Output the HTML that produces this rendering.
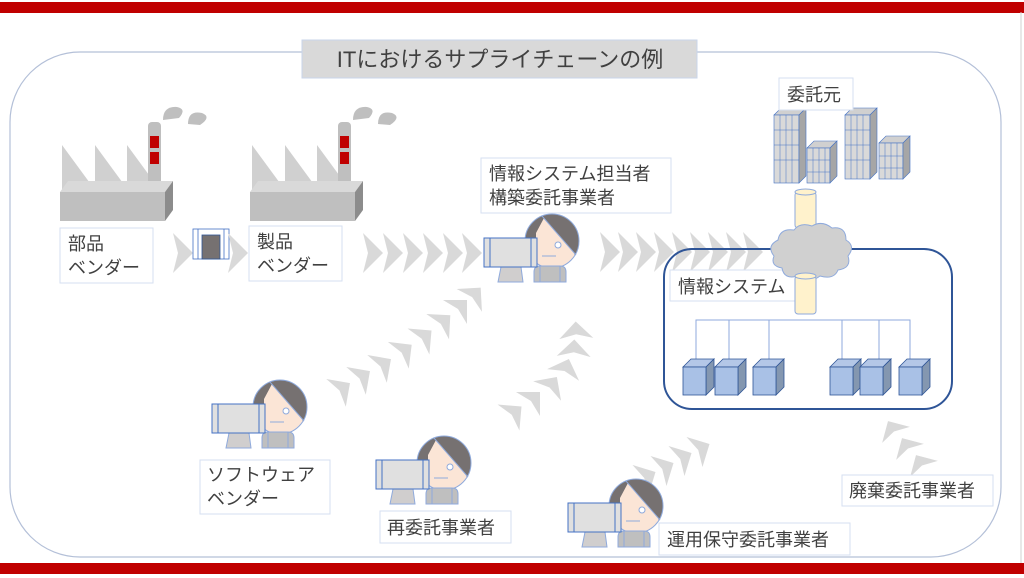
<!DOCTYPE html>
<html><head><meta charset="utf-8"><style>
html,body{margin:0;padding:0;background:#fff;}
svg{display:block;}
text{font-family:"Liberation Sans","Noto Sans CJK JP",sans-serif;fill:#404040;}
</style></head><body>
<svg width="1024" height="578" viewBox="0 0 1024 578" xmlns="http://www.w3.org/2000/svg">
<defs>
<polygon id="chev" points="-10,-20 10,0 -10,20 -5,0" fill="#d9d9d9"/>
<clipPath id="hc"><circle cx="0" cy="0" r="27"/></clipPath>
<g id="person">
  <g transform="translate(68,3)">
    <circle r="27" fill="#767171"/>
    <polygon clip-path="url(#hc)" points="-8,-23 22,12 28,30 -30,30 -30,20 -16,16 -16,-8" fill="#fbe5d6"/>
    <line x1="-10" y1="-25" x2="24" y2="14" stroke="#8faadc" stroke-width="1"/>
    <circle r="27" fill="none" stroke="#8faadc" stroke-width="1"/>
    <circle cx="6" cy="4" r="3" fill="#fff" stroke="#8faadc"/>
    <line x1="-10" y1="15" x2="4" y2="15" stroke="#8faadc"/>
  </g>
  <path d="M50,44 L50,34 Q50,28 56,28 L76,28 Q82,28 82,34 L82,44 Z" fill="#bfbfbf" stroke="#8faadc"/>
  <line x1="56" y1="28" x2="56" y2="44" stroke="#8faadc"/>
  <line x1="76" y1="28" x2="76" y2="44" stroke="#8faadc"/>
  <polygon points="17,29 37,29 39,44 14,44" fill="#d0cece" stroke="#8faadc"/>
  <rect x="0" y="0" width="53" height="29" fill="#e0e0e0" stroke="#4472c4" stroke-width="1"/>
  <line x1="6" y1="0" x2="6" y2="29" stroke="#4472c4"/>
  <line x1="47" y1="0" x2="47" y2="29" stroke="#4472c4"/>
</g>
<g id="factory">
  <polygon points="62,145 95,190 62,190" fill="#d0d0d0"/>
  <polygon points="95,145 128,190 95,190" fill="#d0d0d0"/>
  <polygon points="127,145 160,190 127,190" fill="#d0d0d0"/>
  <rect x="148" y="122" width="13" height="70" rx="4" fill="#bfbfbf"/>
  <rect x="150" y="136" width="9" height="12" fill="#c00000"/>
  <rect x="150" y="152" width="9" height="12" fill="#c00000"/>
  <polygon points="60,192 165,192 173,181 68,181" fill="#d9d9d9"/>
  <rect x="60" y="192" width="105" height="29" fill="#bfbfbf"/>
  <polygon points="165,192 173,181 173,210 165,221" fill="#8c8c8c"/>
  <path d="M163,120 q0,-14 14,-13 q10,2 2,11 z" fill="#bfbfbf"/>
  <path d="M188,124 q0,-14 14,-11 q10,4 -2,12 z" fill="#bfbfbf"/>
</g>
<g id="srv">
  <polygon points="0,8 8,0 31,0 23,8" fill="#b4c7e7" stroke="#2f5597" stroke-width="0.8"/>
  <polygon points="23,8 31,0 31,28 23,36" fill="#8497b0" stroke="#2f5597" stroke-width="0.8"/>
  <rect x="0" y="8" width="23" height="28" fill="#a9c1e6" stroke="#2f5597" stroke-width="0.8"/>
</g>
</defs>

<rect x="0" y="2" width="1024" height="11" fill="#c00000"/>
<rect x="0" y="563" width="1024" height="11" fill="#c00000"/>
<line x1="1021" y1="12" x2="1021" y2="563" stroke="#d0d0d0"/>

<rect x="10" y="52" width="991" height="505" rx="70" fill="none" stroke="#b4c0d8" stroke-width="1.2"/>
<rect x="302" y="40" width="395" height="38" fill="#d9d9d9" stroke="#c9d5ea"/>
<text x="500" y="67" font-size="22" text-anchor="middle" fill="#262626">ITにおけるサプライチェーンの例</text>

<use href="#factory"/>
<use href="#factory" transform="translate(190,0)"/>

<use href="#chev" transform="translate(183,253)"/>
<rect x="193" y="229" width="36" height="30" fill="#fff" stroke="#4472c4" stroke-width="0.8"/>
<line x1="198" y1="229" x2="198" y2="259" stroke="#4472c4" stroke-width="0.8"/>
<line x1="224" y1="229" x2="224" y2="259" stroke="#4472c4" stroke-width="0.8"/>
<rect x="202" y="235" width="18" height="24" fill="#767171" stroke="#2f5597" stroke-width="0.8"/>
<use href="#chev" transform="translate(238,253)"/>
<use href="#chev" transform="translate(373,253)"/>
<use href="#chev" transform="translate(393,253)"/>
<use href="#chev" transform="translate(413,253)"/>
<use href="#chev" transform="translate(433,253)"/>
<use href="#chev" transform="translate(453,253)"/>
<use href="#chev" transform="translate(472,253)"/>
<use href="#chev" transform="translate(610,252)"/>
<use href="#chev" transform="translate(628,252)"/>
<use href="#chev" transform="translate(646,252)"/>
<use href="#chev" transform="translate(664,252)"/>
<use href="#chev" transform="translate(682,252)"/>
<use href="#chev" transform="translate(700,252)"/>
<use href="#chev" transform="translate(718,252)"/>
<use href="#chev" transform="translate(736,252)"/>
<use href="#chev" transform="translate(753,252)"/>

<use href="#chev" transform="translate(343,388) rotate(-35) scale(0.85)"/>
<use href="#chev" transform="translate(363,376) rotate(-35) scale(0.85)"/>
<use href="#chev" transform="translate(384,364) rotate(-35) scale(0.85)"/>
<use href="#chev" transform="translate(405,350) rotate(-38) scale(0.85)"/>
<use href="#chev" transform="translate(425,336) rotate(-40) scale(0.85)"/>
<use href="#chev" transform="translate(444,321) rotate(-42) scale(0.85)"/>
<use href="#chev" transform="translate(461,306) rotate(-45) scale(0.85)"/>
<use href="#chev" transform="translate(475,294) rotate(-48) scale(0.85)"/>

<use href="#chev" transform="translate(515,412) rotate(-40) scale(0.85)"/>
<use href="#chev" transform="translate(534,398) rotate(-45) scale(0.85)"/>
<use href="#chev" transform="translate(552,384) rotate(-55) scale(0.85)"/>
<use href="#chev" transform="translate(566,367) rotate(-70) scale(0.85)"/>
<use href="#chev" transform="translate(574,348) rotate(-88) scale(0.85)"/>
<use href="#chev" transform="translate(576,330) rotate(-92) scale(0.85)"/>

<use href="#chev" transform="translate(648,476) rotate(-28) scale(0.85)"/>
<use href="#chev" transform="translate(666,467) rotate(-28) scale(0.85)"/>
<use href="#chev" transform="translate(684,457) rotate(-28) scale(0.85)"/>
<use href="#chev" transform="translate(702,448) rotate(-28) scale(0.85)"/>

<use href="#chev" transform="translate(920,462) rotate(-120) scale(0.8)"/>
<use href="#chev" transform="translate(906,445) rotate(-120) scale(0.8)"/>
<use href="#chev" transform="translate(892,428) rotate(-120) scale(0.8)"/>

<rect x="664" y="249" width="288" height="160" rx="28" fill="none" stroke="#2f5597" stroke-width="2"/>
<rect x="670" y="270" width="130" height="31" fill="#fff" stroke="#d6dff0"/>
<text x="678" y="293" font-size="18">情報システム</text>
<g stroke="#8faadc" stroke-width="1" fill="none">
<polyline points="696,362 696,320 910,320 910,362"/>
<line x1="729" y1="320" x2="729" y2="362"/>
<line x1="769" y1="320" x2="769" y2="362"/>
<line x1="842" y1="320" x2="842" y2="362"/>
<line x1="879" y1="320" x2="879" y2="362"/>
</g>
<use href="#srv" transform="translate(683,359)"/>
<use href="#srv" transform="translate(715,359)"/>
<use href="#srv" transform="translate(753,359)"/>
<use href="#srv" transform="translate(830,359)"/>
<use href="#srv" transform="translate(860,359)"/>
<use href="#srv" transform="translate(899,359)"/>

<g stroke="#4472c4" stroke-width="0.6">
<polygon points="774,115 799,115 806,108 781,108" fill="#d0d0d0"/>
<rect x="774" y="115" width="25" height="68" fill="#d9d9d9"/>
<polygon points="799,115 806,108 806,176 799,183" fill="#a6a6a6"/>
<polygon points="807,148 830,148 837,141 814,141" fill="#d0d0d0"/>
<rect x="807" y="148" width="23" height="35" fill="#d9d9d9"/>
<polygon points="830,148 837,141 837,176 830,183" fill="#a6a6a6"/>
<polygon points="845,115 870,115 877,108 852,108" fill="#d0d0d0"/>
<rect x="845" y="115" width="25" height="64" fill="#d9d9d9"/>
<polygon points="870,115 877,108 877,172 870,179" fill="#a6a6a6"/>
<polygon points="879,143 903,143 910,136 886,136" fill="#d0d0d0"/>
<rect x="879" y="143" width="24" height="36" fill="#d9d9d9"/>
<polygon points="903,143 910,136 910,172 903,179" fill="#a6a6a6"/>
</g>
<g stroke="#4472c4" stroke-width="0.5">
<line x1="780" y1="115" x2="780" y2="183"/><line x1="786" y1="115" x2="786" y2="183"/><line x1="792" y1="115" x2="792" y2="183"/>
<line x1="774" y1="130" x2="799" y2="130"/><line x1="774" y1="145" x2="799" y2="145"/><line x1="774" y1="160" x2="799" y2="160"/>
<line x1="813" y1="148" x2="813" y2="183"/><line x1="819" y1="148" x2="819" y2="183"/><line x1="825" y1="148" x2="825" y2="183"/>
<line x1="807" y1="160" x2="830" y2="160"/><line x1="807" y1="172" x2="830" y2="172"/>
<line x1="851" y1="115" x2="851" y2="179"/><line x1="857" y1="115" x2="857" y2="179"/><line x1="863" y1="115" x2="863" y2="179"/>
<line x1="845" y1="130" x2="870" y2="130"/><line x1="845" y1="145" x2="870" y2="145"/><line x1="845" y1="160" x2="870" y2="160"/>
<line x1="885" y1="143" x2="885" y2="179"/><line x1="891" y1="143" x2="891" y2="179"/><line x1="897" y1="143" x2="897" y2="179"/>
<line x1="879" y1="156" x2="903" y2="156"/><line x1="879" y1="168" x2="903" y2="168"/>
</g>
<rect x="779" y="78" width="74" height="32" fill="#fff" stroke="#d6dff0"/>
<text x="787" y="101" font-size="18">委託元</text>

<rect x="795" y="192" width="21" height="36" rx="3" fill="#fff2cc" stroke="#8faadc"/>
<ellipse cx="805.5" cy="192" rx="10.5" ry="3" fill="#fff2cc" stroke="#8faadc"/>
<path d="M778,240 q2,-12 16,-10 q6,-8 18,-4 q10,-6 20,2 q14,-2 14,12 q10,6 2,16 q4,12 -10,14 q-4,10 -18,6 q-10,8 -22,0 q-14,4 -16,-8 q-12,-2 -8,-12 q-8,-10 4,-16 z" fill="#d0d0d0" stroke="#8faadc" stroke-width="1"/>
<rect x="795" y="276" width="21" height="38" rx="3" fill="#fff2cc" stroke="#8faadc"/>
<ellipse cx="805.5" cy="276" rx="10.5" ry="3" fill="#fff2cc" stroke="#8faadc"/>

<use href="#person" transform="translate(484,238)"/>
<use href="#person" transform="translate(212,404)"/>
<use href="#person" transform="translate(376,460)"/>
<use href="#person" transform="translate(568,503)"/>

<g fill="#fff" stroke="#d6dff0">
<rect x="60" y="228" width="93" height="55"/>
<rect x="249" y="226" width="93" height="55"/>
<rect x="481" y="158" width="190" height="55"/>
<rect x="200" y="460" width="130" height="54"/>
<rect x="380" y="511" width="131" height="32"/>
<rect x="659" y="523" width="191" height="32"/>
<rect x="842" y="475" width="151" height="31"/>
</g>
<g font-size="18">
<text x="68" y="250">部品</text><text x="68" y="274">ベンダー</text>
<text x="257" y="248">製品</text><text x="257" y="272">ベンダー</text>
<text x="489" y="180">情報システム担当者</text><text x="489" y="204">構築委託事業者</text>
<text x="207" y="481">ソフトウェア</text><text x="207" y="505">ベンダー</text>
<text x="387" y="534">再委託事業者</text>
<text x="667" y="546">運用保守委託事業者</text>
<text x="849" y="497">廃棄委託事業者</text>
</g>
</svg>
</body></html>
